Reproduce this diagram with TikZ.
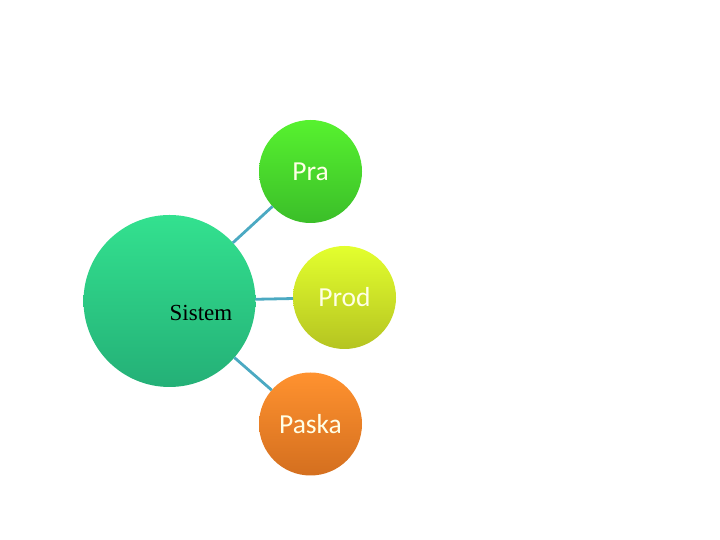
\documentclass[tikz,border=0pt]{standalone}
\usepackage{fontspec}
\setmainfont{Liberation Serif}
\newfontfamily\bubblefont{Carlito}
\usepackage{xcolor}
\usepackage{tikz}
\usetikzlibrary{positioning}

\definecolor{sistemtop}{HTML}{33E18F}
\definecolor{sistembot}{HTML}{24B077}
\definecolor{pratop}{HTML}{57F22F}
\definecolor{prabot}{HTML}{3BBE29}
\definecolor{prodtop}{HTML}{E3FF2E}
\definecolor{prodbot}{HTML}{B5C421}
\definecolor{paskatop}{HTML}{FF922F}
\definecolor{paskabot}{HTML}{D46F1F}
\definecolor{linkblue}{HTML}{4BA9C2}
\definecolor{bubbletext}{HTML}{FFFFE6}

\tikzset{
  bubble/.style={circle,inner sep=0pt,outer sep=0pt,minimum size=103pt,
    text=bubbletext,font=\bubblefont\fontsize{27.5}{30}\selectfont},
  hub/.style={circle,inner sep=0pt,outer sep=0pt,minimum size=172pt},
  link/.style={linkblue,line width=2.8pt}
}

\begin{document}
\begin{tikzpicture}[x=1pt,y=1pt]
        \useasboundingbox (0,0) rectangle (720,540);
        % circles (y measured from the bottom of the page)
        \node[hub,top color=sistemtop,bottom color=sistembot]    (sistem) at (169.5,239) {};
        \node[bubble,top color=pratop,bottom color=prabot]       (pra)    at (310.5,368.5) {Pra};
        \node[bubble,top color=prodtop,bottom color=prodbot]     (prod)   at (344.5,242.5) {Prod};
        \node[bubble,top color=paskatop,bottom color=paskabot]   (paska)  at (310.5,116) {Paska};
        % hub label sits off centre
        \node[font=\fontsize{23}{26}\selectfont] (sistemlbl) at (201,227) {Sistem};
        % links from the hub
        \foreach \t in {pra,prod,paska}
          {\draw[link] (sistem) -- (\t);}
      \end{tikzpicture}
\end{document}
